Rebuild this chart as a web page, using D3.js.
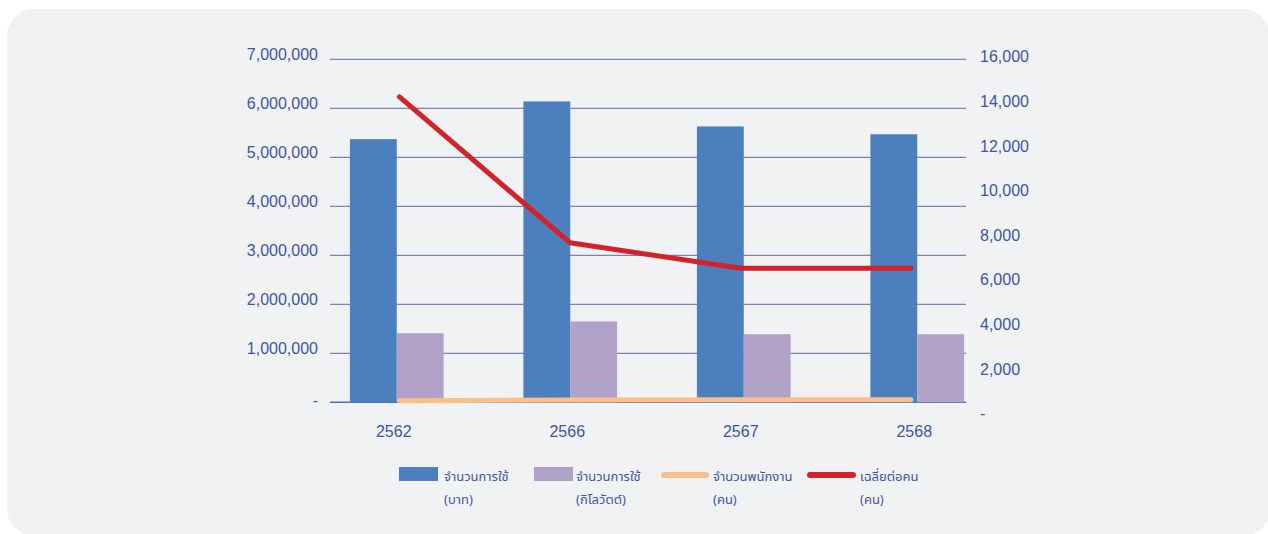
<!DOCTYPE html>
<html><head><meta charset="utf-8">
<script src="https://cdn.jsdelivr.net/npm/d3@7"></script>
<style>
html,body{margin:0;padding:0;background:#fff;}
svg{display:block;}
text{font-family:"Liberation Sans",Arial,Helvetica,sans-serif;}
.th{font-family:"Noto Sans Thai","Noto Sans Thai UI","Leelawadee UI",Tahoma,"Noto Sans",sans-serif;}
</style>
</head><body>
<svg id="c" width="1268" height="534"></svg>
<script>
const years = ["2562","2566","2567","2568"];
const bahtValues = [5370000, 6140000, 5630000, 5470000];
const kwhValues = [1410000, 1650000, 1390000, 1390000];
const staffValues = [570, 600, 620, 615];
const avgValues = [14200, 7660, 6510, 6510];
const leftTicks = [0,1000000,2000000,3000000,4000000,5000000,6000000,7000000];
const rightTicks = [0,2000,4000,6000,8000,10000,12000,14000,16000];
const legendLabels = [["จำนวนการใช้","(บาท)"],["จำนวนการใช้","(กิโลวัตต์)"],["จำนวนพนักงาน","(คน)"],["เฉลี่ยต่อคน","(คน)"]];

const textColor = "#3d56a2";
const gridColor = "#5a68a8";
const cBlue = "#4b7fbd", cPurple = "#b1a2c7", cOrange = "#f9bf8c", cRed = "#d2232a";

const svg = d3.select("#c");
svg.append("rect").attr("x",7).attr("y",9).attr("width",1263).attr("height",527)
  .attr("rx",27).attr("fill","#f1f2f4");

const x = d3.scaleBand().domain(years).range([310,1004]).paddingInner(0.46).paddingOuter(0.23);
const x1 = d3.scaleBand().domain([0,1]).range([0,x.bandwidth()]);
const xl = d3.scalePoint().domain(years).range([399.5,911]);
const y = d3.scaleLinear().domain([0,7000000]).range([402.3,59.3]);
const y2 = d3.scaleLinear().domain([0,16000]).range([413.5,56.7]);
const gx0 = 330, gx1 = 966;

// gridlines
svg.append("g").selectAll("line").data(leftTicks).join("line")
  .attr("x1",gx0).attr("x2",gx1)
  .attr("y1",d=>y(d)).attr("y2",d=>y(d))
  .attr("stroke",gridColor).attr("stroke-width",d=>d===0?1.5:1);

// left labels
const fmt = d3.format(",");
svg.append("g").selectAll("text").data(leftTicks).join("text")
  .attr("x",318).attr("y",d=>y(d)-(d===0?2:5)).attr("dy","0.35em")
  .attr("text-anchor","end").attr("font-size",16).attr("fill",textColor)
  .text(d=>d===0?"-":fmt(d));

// right labels
svg.append("g").selectAll("text").data(rightTicks).join("text")
  .attr("x",980).attr("y",d=>y2(d)).attr("dy","0.35em")
  .attr("text-anchor","start").attr("font-size",16).attr("fill",textColor)
  .text(d=>d===0?"-":fmt(d));

// x labels
svg.append("g").selectAll("text").data(years).join("text")
  .attr("x",d=>x(d)+x.bandwidth()/2-3).attr("y",431).attr("dy","0.35em")
  .attr("text-anchor","middle").attr("font-size",16).attr("fill",textColor)
  .text(d=>d);

// bars
const bars = svg.append("g");
bars.selectAll(".b").data(years).join("rect")
  .attr("x",d=>x(d)+x1(0)).attr("width",x1.bandwidth())
  .attr("y",(d,i)=>y(bahtValues[i])).attr("height",(d,i)=>y(0)-y(bahtValues[i])+0.5)
  .attr("fill",cBlue);
bars.selectAll(".p").data(years).join("rect")
  .attr("x",d=>x(d)+x1(1)).attr("width",x1.bandwidth())
  .attr("y",(d,i)=>y(kwhValues[i])).attr("height",(d,i)=>y(0)-y(kwhValues[i]))
  .attr("fill",cPurple);

// staff line
svg.append("path")
  .attr("d",d3.line().x((d,i)=>xl(years[i])).y(d=>y2(d))(staffValues))
  .attr("fill","none").attr("stroke",cOrange).attr("stroke-width",5)
  .attr("stroke-linecap","round").attr("stroke-linejoin","round");
// average line
svg.append("path")
  .attr("d",d3.line().x((d,i)=>xl(years[i])).y(d=>y2(d))(avgValues))
  .attr("fill","none").attr("stroke",cRed).attr("stroke-width",5)
  .attr("stroke-linecap","round").attr("stroke-linejoin","round");

// legend
const lg = svg.append("g");
const items = [
  {type:"rect",color:cBlue,x0:399,x1:438,tx:444},
  {type:"rect",color:cPurple,x0:534,x1:573,tx:576},
  {type:"line",color:cOrange,x0:664,x1:706,tx:713},
  {type:"line",color:cRed,x0:810,x1:853,tx:860}
];
items.forEach((it,i)=>{
  if(it.type==="rect"){
    lg.append("rect").attr("x",it.x0).attr("y",467).attr("width",it.x1-it.x0).attr("height",14).attr("fill",it.color);
  } else {
    lg.append("line").attr("x1",it.x0).attr("x2",it.x1).attr("y1",475).attr("y2",475)
      .attr("stroke",it.color).attr("stroke-width",6).attr("stroke-linecap","round");
  }
  lg.append("text").attr("class","th").attr("x",it.tx).attr("y",476).attr("dy","0.35em")
    .attr("font-size",13).attr("fill",textColor).text(legendLabels[i][0]);
  lg.append("text").attr("class","th").attr("x",it.tx).attr("y",499).attr("dy","0.35em")
    .attr("font-size",13).attr("fill",textColor).text(legendLabels[i][1]);
});
</script>
</body></html>
